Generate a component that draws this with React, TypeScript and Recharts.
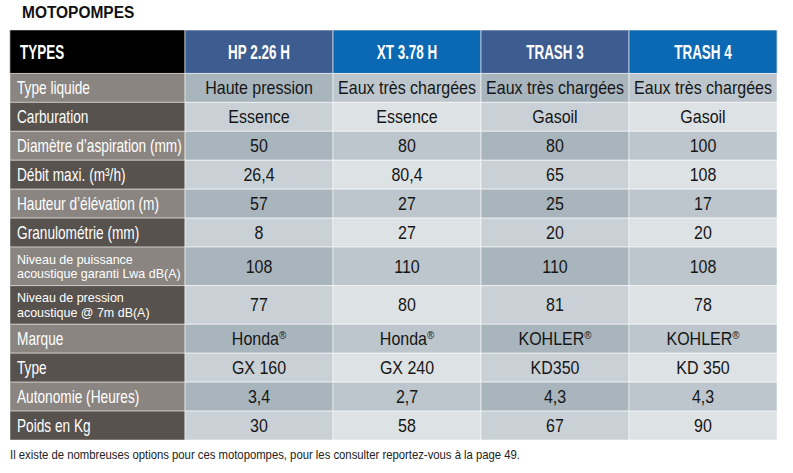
import { BarChart, Bar, XAxis, YAxis } from 'recharts';

const TYPES = ['HP 2.26 H', 'XT 3.78 H', 'TRASH 3', 'TRASH 4'];

const specs = [
  'Type liquide',
  'Carburation',
  'Diamètre d’aspiration (mm)',
  'Débit maxi. (m³/h)',
  'Hauteur d’élévation (m)',
  'Granulométrie (mm)',
  'Niveau de puissance\nacoustique garanti Lwa dB(A)',
  'Niveau de pression\nacoustique @ 7m dB(A)',
  'Marque',
  'Type',
  'Autonomie (Heures)',
  'Poids en Kg',
];

const hp226 = ['Haute pression', 'Essence', '50', '26,4', '57', '8', '108', '77', 'Honda®', 'GX 160', '3,4', '30'];
const xt378 = ['Eaux très chargées', 'Essence', '80', '80,4', '27', '27', '110', '80', 'Honda®', 'GX 240', '2,7', '58'];
const trash3 = ['Eaux très chargées', 'Gasoil', '80', '65', '25', '20', '110', '81', 'KOHLER®', 'KD350', '4,3', '67'];
const trash4 = ['Eaux très chargées', 'Gasoil', '100', '108', '17', '20', '108', '78', 'KOHLER®', 'KD 350', '4,3', '90'];

const columns = [hp226, xt378, trash3, trash4];

// row heights in "text line" units: header is taller, two-line labels get a taller row
const HEAD_UNITS = 1.5;
const rowUnits = specs.map((s) => (s.includes('\n') ? 4 / 3 : 1));
const TOTAL = HEAD_UNITS + rowUnits.reduce((a, b) => a + b, 0);

const chartData = TYPES.map((name) => {
  const row: Record<string, any> = { name, head: HEAD_UNITS };
  rowUnits.forEach((u, r) => {
    row[`r${r}`] = u;
  });
  return row;
});

const LABEL_W = 175;
const FONT = '"Liberation Sans", Arial, sans-serif';
const LINE = '#ffffff';

const headFill = (c: number) => (c % 2 === 0 ? '#3d5c90' : '#0b69b3');
const labelFill = (r: number) => (r % 2 === 0 ? '#8a8581' : '#57524e');
const cellFill = (r: number, c: number) =>
  r % 2 === 0 ? (c % 2 === 0 ? '#a8b5bd' : '#bcc6cc') : c % 2 === 0 ? '#c9d1d6' : '#dde2e5';

const box = (p: any) => {
  const top = p.height < 0 ? p.y + p.height : p.y;
  return { x: p.x, y: top, w: p.width, h: Math.abs(p.height) };
};

const withReg = (t: string) => {
  const parts = t.split('®');
  if (parts.length === 1) return t;
  return (
    <>
      <tspan>{parts[0]}</tspan>
      <tspan fontSize="11" dy={-6}>®</tspan>
    </>
  );
};

const HeaderCell = (props: any) => {
  const { x, y, w, h } = box(props);
  const c = props.index;
  const cy = y + h / 2;
  return (
    <g>
      {c === 0 && (
        <g>
          <rect x={x - LABEL_W} y={y} width={LABEL_W} height={h} fill="#000000" stroke="#9a9a9a" strokeWidth={0.8} />
          <text
            transform={`translate(${x - LABEL_W + 10},${cy + 7}) scale(0.69,1)`}
            fontFamily={FONT}
            fontWeight="bold"
            fontSize={19.5}
            fill="#ffffff"
          >
            TYPES
          </text>
        </g>
      )}
      <rect x={x} y={y} width={w} height={h} fill={headFill(c)} stroke="#c8d4e2" strokeWidth={0.8} />
      <text
        transform={`translate(${x + w / 2},${cy + 7}) scale(0.69,1)`}
        textAnchor="middle"
        fontFamily={FONT}
        fontWeight="bold"
        fontSize={19.5}
        fill="#ffffff"
      >
        {TYPES[c]}
      </text>
    </g>
  );
};

const SpecCell = (props: any) => {
  const { x, y, w, h } = box(props);
  const c = props.index;
  const r = props.row as number;
  const cy = y + h / 2;
  const lines = specs[r].split('\n');
  return (
    <g>
      {c === 0 && (
        <g>
          <rect x={x - LABEL_W} y={y} width={LABEL_W} height={h} fill={labelFill(r)} stroke={LINE} strokeOpacity={0.45} strokeWidth={1} />
          {lines.length === 1 ? (
            <text
              transform={`translate(${x - LABEL_W + 7},${cy + 6.4}) scale(0.76,1)`}
              fontFamily={FONT}
              fontSize={18}
              fill="#ffffff"
            >
              {lines[0]}
            </text>
          ) : (
            lines.map((l, i) => (
              <text
                key={i}
                transform={`translate(${x - LABEL_W + 7},${cy - 7.3 + i * 14.6 + 4.7}) scale(0.96,1)`}
                fontFamily={FONT}
                fontSize={13}
                fill="#ffffff"
              >
                {l}
              </text>
            ))
          )}
        </g>
      )}
      <rect x={x} y={y} width={w} height={h} fill={cellFill(r, c)} stroke={LINE} strokeOpacity={0.55} strokeWidth={1} />
      <text
        transform={`translate(${x + w / 2},${cy + 6.4}) scale(0.89,1)`}
        textAnchor="middle"
        fontFamily={FONT}
        fontSize={18}
        fill="#161616"
      >
        {withReg(columns[c][r])}
      </text>
    </g>
  );
};

export default function App() {
  return (
    <div style={{ position: 'absolute', left: 0, top: 0, width: 793, height: 473, background: '#ffffff' }}>
      <BarChart
        width={793}
        height={473}
        data={chartData}
        margin={{ top: 30, right: 16, bottom: 33, left: 185 }}
        barCategoryGap={0}
        barGap={0}
      >
        <XAxis dataKey="name" hide />
        <YAxis hide reversed type="number" domain={[0, TOTAL]} allowDataOverflow />
        <Bar dataKey="head" stackId="t" isAnimationActive={false} shape={(p: any) => <HeaderCell {...p} />} />
        {specs.map((s, r) => (
          <Bar
            key={s}
            dataKey={`r${r}`}
            stackId="t"
            isAnimationActive={false}
            shape={(p: any) => <SpecCell {...p} row={r} />}
          />
        ))}
      </BarChart>
      <svg width={793} height={473} style={{ position: 'absolute', left: 0, top: 0, pointerEvents: 'none' }}>
        <text transform="translate(22,18) scale(0.91,1)" fontFamily={FONT} fontWeight="bold" fontSize={17} fill="#111111">
          MOTOPOMPES
        </text>
        <text transform="translate(10,459) scale(0.87,1)" fontFamily={FONT} fontSize={13} fill="#222222">
          Il existe de nombreuses options pour ces motopompes, pour les consulter reportez-vous à la page 49.
        </text>
      </svg>
    </div>
  );
}
